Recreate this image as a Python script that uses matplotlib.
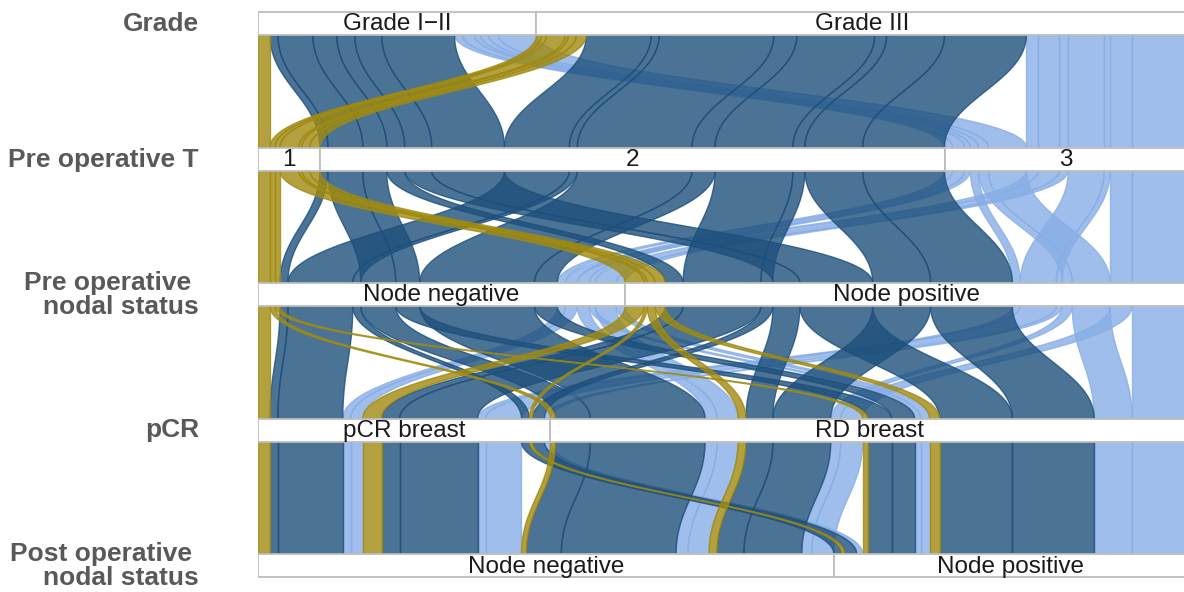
import numpy as np
import matplotlib
matplotlib.use("Agg")
import matplotlib.pyplot as plt
from matplotlib.patches import Polygon, Rectangle

# ---------------- data ----------------
variables = ["Grade", "Pre operative T", "Pre operative \nnodal status", "pCR",
             "Post operative \nnodal status"]
grade_levels = ["Grade I\u2212II", "Grade III"]
t_levels = ["1", "2", "3"]
pre_n_levels = ["Node negative", "Node positive"]
pcr_levels = ["pCR breast", "RD breast"]
post_n_levels = ["Node negative", "Node positive"]

# one entry per patient group (alluvium); values are level indices
grade   = [0, 1, 1, 1, 1, 1, 1,  0, 1, 0, 1, 0, 1, 0, 1, 1, 1, 0, 1, 0, 1,  0, 1, 0, 1, 0, 1, 0, 1, 0, 1, 0, 1, 1]
t_stage = [0, 0, 0, 0, 0, 0, 0,  1, 1, 1, 1, 1, 1, 1, 1, 1, 1, 1, 1, 1, 1,  2, 2, 2, 2, 2, 2, 2, 2, 2, 2, 2, 2, 2]
pre_n   = [0, 0, 0, 1, 1, 1, 1,  0, 0, 1, 1, 0, 0, 1, 1, 0, 1, 0, 0, 1, 1,  0, 0, 1, 1, 0, 0, 1, 1, 0, 0, 1, 1, 1]
pcr     = [0, 1, 1, 0, 1, 1, 0,  0, 0, 0, 0, 1, 1, 1, 1, 0, 0, 1, 1, 1, 1,  0, 0, 0, 0, 1, 1, 1, 1, 1, 1, 1, 1, 0]
post_n  = [0, 0, 1, 0, 0, 1, 1,  0, 0, 0, 0, 0, 0, 0, 0, 1, 1, 1, 1, 1, 1,  0, 0, 0, 0, 0, 0, 0, 0, 1, 1, 1, 1, 1]
counts  = [12, 5, 5, 19, 8, 10, 3,
           8, 65, 18, 78, 35, 115, 27, 58, 8, 12, 24, 23, 73, 82,
           8, 12, 8, 36, 12, 21, 10, 22, 6, 9, 38, 56, 6]

# colour by pre-operative T
t_colors = ["#A08A10", "#1E507C", "#88AEE6"]

# ---------------- layout ----------------
columns = [grade, t_stage, pre_n, pcr, post_n]
levels = [grade_levels, t_levels, pre_n_levels, pcr_levels, post_n_levels]
# lode ordering at each axis (zig-zag guidance)
orders = [[0, 1, 2, 3, 4], [1, 0, 2, 3, 4], [2, 1, 3, 0, 4], [3, 4, 2, 1, 0], [4, 3, 2, 1, 0]]

n_groups = len(counts)
total = float(sum(counts))

W, H = 1184, 592
fig = plt.figure(figsize=(W / 100, H / 100), dpi=100)
x_left, x_right = 258, 1188
ax = fig.add_axes([x_left / W, 0, (x_right - x_left) / W, 1])
ax.set_xlim(0, total)
ax.set_ylim(H, 0)
ax.axis("off")

y_centers = [23.5 + 135.5 * k for k in range(5)]
bar_h = 23

# positions of each group at each axis
pos = np.zeros((5, n_groups, 2))
for k in range(5):
    keys = [tuple(columns[j][g] for j in orders[k]) for g in range(n_groups)]
    idx = sorted(range(n_groups), key=lambda g: keys[g])
    c = 0.0
    for g in idx:
        pos[k, g] = (c, c + counts[g])
        c += counts[g]

tt = np.linspace(0, 1, 80)
cpar = 0.42


def edge(xa, xb, ya, yb):
    dy = yb - ya
    b0 = (1 - tt) ** 3
    b1 = 3 * (1 - tt) ** 2 * tt
    b2 = 3 * (1 - tt) * tt ** 2
    b3 = tt ** 3
    x = xa * (b0 + b1) + xb * (b2 + b3)
    y = ya * b0 + (ya + cpar * dy) * b1 + (yb - cpar * dy) * b2 + yb * b3
    # extend under the bars
    x = np.concatenate([[xa], x, [xb]])
    y = np.concatenate([[ya - bar_h / 2], y, [yb + bar_h / 2]])
    return x, y


# light blue first, then dark blue, gold on top
draw_order = sorted(range(n_groups), key=lambda g: -t_stage[g])
for g in draw_order:
    col = t_colors[t_stage[g]]
    for k in range(4):
        ya = y_centers[k] + bar_h / 2
        yb = y_centers[k + 1] - bar_h / 2
        lx, ly = edge(pos[k, g, 0], pos[k + 1, g, 0], ya, yb)
        rx, ry = edge(pos[k, g, 1], pos[k + 1, g, 1], ya, yb)
        xs = np.concatenate([lx, rx[::-1]])
        ys = np.concatenate([ly, ry[::-1]])
        poly = Polygon(np.column_stack([xs, ys]), closed=True, facecolor=col,
                       edgecolor=col, alpha=0.8, lw=1.0, zorder=2)
        ax.add_patch(poly)

# strata bars
for k in range(5):
    col = columns[k]
    sizes = [sum(c for c, v in zip(counts, col) if v == i) for i in range(len(levels[k]))]
    start = 0.0
    for i, lab in enumerate(levels[k]):
        r = Rectangle((start, y_centers[k] - bar_h / 2), sizes[i], bar_h,
                      facecolor="white", edgecolor="#BDBDBD", lw=1.3, zorder=5)
        ax.add_patch(r)
        ax.text(start + sizes[i] / 2, y_centers[k] + 1, lab, ha="center", va="center",
                fontsize=17.5, family="Liberation Sans", color="#1A1A1A", zorder=6)
        start += sizes[i]

for k, name in enumerate(variables):
    fig.text(199 / W, 1 - (y_centers[k] + 0.5) / H, name, ha="right", va="center",
             multialignment="right", fontsize=19, fontweight="bold",
             family="Liberation Sans", color="#595959", linespacing=1.02)

fig.savefig("out.png", dpi=100)
